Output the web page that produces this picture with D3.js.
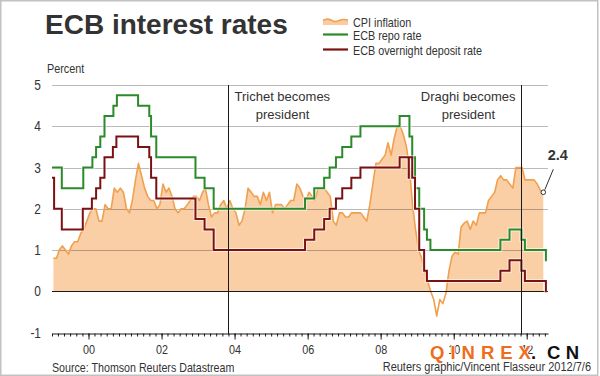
<!DOCTYPE html>
<html><head><meta charset="utf-8">
<script src="https://cdn.jsdelivr.net/npm/d3@7"></script>
<style>body{margin:0;background:#fff}svg{display:block}</style>
</head><body>
<svg id="c" width="600" height="376"></svg>
<script>
// ---------------- DATA ----------------
const cpiStart = [1999, 0]; // Jan 1999, monthly
const cpiValues = [
  0.8,0.8,1.0,1.1,1.0,0.9,1.1,1.2,1.2,1.4,1.5,1.7,      // 1999
  1.9,2.0,2.0,1.7,1.7,2.1,2.0,2.0,2.5,2.4,2.5,2.4,      // 2000
  2.0,1.9,2.2,2.7,3.1,2.8,2.5,2.3,2.2,2.2,2.0,2.1,      // 2001
  2.6,2.4,2.5,2.3,2.0,1.9,2.0,2.0,2.1,2.2,2.3,2.3,      // 2002
  2.2,2.4,2.5,2.1,1.8,1.9,1.9,2.1,2.2,2.0,2.2,2.0,      // 2003
  1.9,1.6,1.7,2.0,2.5,2.4,2.3,2.3,2.1,2.4,2.2,2.4,      // 2004
  1.9,2.1,2.1,2.1,2.0,2.1,2.2,2.2,2.6,2.5,2.3,2.2,      // 2005
  2.4,2.3,2.2,2.5,2.5,2.5,2.4,2.3,1.7,1.6,1.9,1.9,      // 2006
  1.8,1.8,1.9,1.9,1.9,1.9,1.8,1.7,2.1,2.6,3.1,3.1,      // 2007
  3.2,3.3,3.6,3.3,3.7,4.0,4.0,3.8,3.5,3.0,2.1,1.5,      // 2008
  1.0,0.8,0.5,0.25,0.0,-0.2,-0.6,-0.2,-0.3,-0.05,0.5,0.85, // 2009
  0.95,0.9,1.55,1.65,1.7,1.5,1.7,1.6,1.9,1.9,1.9,2.2,   // 2010
  2.3,2.4,2.7,2.8,2.7,2.7,2.6,2.5,3.0,3.0,3.0,2.7,      // 2011
  2.7,2.7,2.7,2.6,2.45,2.4                              // 2012
];
const repoDates = ["1999-01-01","1999-04-09","1999-11-10","2000-02-09","2000-03-17","2000-04-28",
  "2000-06-09","2000-09-06","2000-10-11","2001-05-11","2001-08-31","2001-09-18","2001-11-09",
  "2002-12-06","2003-03-07","2003-06-06","2005-12-06","2006-03-08","2006-06-15","2006-08-09",
  "2006-10-11","2006-12-13","2007-03-14","2007-06-13","2008-07-09","2008-10-15","2008-11-12",
  "2008-12-10","2009-01-21","2009-03-11","2009-04-08","2009-05-13","2011-04-13","2011-07-13",
  "2011-11-09","2011-12-14","2012-07-11"];
const repoValues = [3.0,2.5,3.0,3.25,3.5,3.75,4.25,4.5,4.75,4.5,4.25,3.75,3.25,
  2.75,2.5,2.0,2.25,2.5,2.75,3.0,3.25,3.5,3.75,4.0,4.25,3.75,3.25,
  2.5,2.0,1.5,1.25,1.0,1.25,1.5,1.25,1.0,0.75];
const depositDates = ["1999-01-01","1999-01-22","1999-04-09","1999-11-05","2000-02-04","2000-03-17",
  "2000-04-28","2000-06-09","2000-09-01","2000-10-06","2001-05-11","2001-08-31","2001-09-18",
  "2001-11-09","2002-12-06","2003-03-07","2003-06-06","2005-12-06","2006-03-08","2006-06-15",
  "2006-08-09","2006-10-11","2006-12-13","2007-03-14","2007-06-13","2008-07-09","2008-10-08",
  "2008-10-09","2008-11-12","2008-12-10","2009-01-21","2009-03-11","2009-04-08","2011-04-13",
  "2011-07-13","2011-11-09","2011-12-14","2012-07-11"];
const depositValues = [2.75,2.0,1.5,2.0,2.25,2.5,2.75,3.25,3.5,3.75,3.5,3.25,2.75,
  2.25,1.75,1.5,1.0,1.25,1.5,1.75,2.0,2.25,2.5,2.75,3.0,3.25,2.75,
  3.25,2.75,2.0,1.0,0.5,0.25,0.5,0.75,0.5,0.25,0.0];
const ratesEnd = "2012-07-20";
const yTicks = [-1,0,1,2,3,4,5];
const xTickYears = [2000,2002,2004,2006,2008,2010,2012];
const xTickLabels = ["00","02","04","06","08","10","12"];
const eventDates = ["2003-11-01","2011-11-01"];
const eventTitles = ["Trichet becomes","Draghi becomes"];
const eventSub = "president";
const seriesNames = ["CPI inflation","ECB repo rate","ECB overnight deposit rate"];
const titleText = "ECB interest rates";
const unitText = "Percent";
const sourceText = "Source: Thomson Reuters Datastream";
const creditText = "Reuters graphic/Vincent Flasseur 2012/7/6";
const lastLabel = "2.4";

// ---------------- STYLE ----------------
const REG = "'Liberation Sans',Arial,Helvetica,sans-serif";
const TXT = "#333";
const C_FILL = "rgb(248,191,136)", C_CPI = "#f0a04e", C_REPO = "#2b8a2b", C_DEP = "#7a1214";

// condensed text: squeeze glyphs horizontally (Arial Narrow look)
function narrow(sel, f){
  sel.each(function(){
    const w = this.getComputedTextLength();
    d3.select(this).attr("textLength", w*f).attr("lengthAdjust","spacingAndGlyphs");
  });
  return sel;
}

const parse = d3.utcParse("%Y-%m-%d");
const svg = d3.select("#c");

const x = d3.scaleUtc().domain([new Date(Date.UTC(1999,0,1)), new Date(Date.UTC(2012,7,1))]).range([52,548]);
const y = d3.scaleLinear().domain([-1,5]).range([332.5,85]);
const cr = v => Math.round(v)+0.5;

svg.append("rect").attr("x",0.75).attr("y",0.75).attr("width",597).attr("height",374.5)
  .attr("fill","#fff").attr("stroke","#c2c2c2").attr("stroke-width",1.5);

// title
svg.append("text").attr("x",45).attr("y",33.5).text(titleText)
  .attr("font-family",REG).attr("font-weight","bold").attr("font-size",28).attr("fill",TXT);

// legend
const lg = svg.append("g");
const swY = [21.5, 34.5, 49.5];
lg.append("path").attr("d","M323,20.5 C327,18 330,19 333,21 C337,23 340,19 344,19.5 L348,20 L348,25 L323,25 Z")
  .attr("fill",C_FILL).attr("fill-opacity",0.8);
lg.append("path").attr("d","M323,20.5 C327,18 330,19 333,21 C337,23 340,19 344,19.5 L348,20")
  .attr("fill","none").attr("stroke",C_CPI).attr("stroke-width",1.5);
lg.append("line").attr("x1",323).attr("x2",348).attr("y1",swY[1]).attr("y2",swY[1]).attr("stroke",C_REPO).attr("stroke-width",2.2);
lg.append("line").attr("x1",323).attr("x2",348).attr("y1",swY[2]).attr("y2",swY[2]).attr("stroke",C_DEP).attr("stroke-width",2.2);
seriesNames.forEach((s,i)=>{
  narrow(lg.append("text").attr("x",353).attr("y",swY[i]+5).text(s)
    .attr("font-family",REG).attr("font-size",13.5).attr("fill",TXT), 0.8);
});

// unit
narrow(svg.append("text").attr("x",47).attr("y",72.5).text(unitText)
  .attr("font-family",REG).attr("font-size",13.5).attr("fill",TXT), 0.8);

// y labels
yTicks.forEach(v=>{
  narrow(svg.append("text").attr("x",41).attr("y",y(v)+5).attr("text-anchor","end").text(v)
    .attr("font-family",REG).attr("font-size",14).attr("fill",TXT), 0.85);
});

// CPI area (clipped above zero)
const cpi = cpiValues.map((v,i)=>({date:new Date(Date.UTC(cpiStart[0], cpiStart[1]+i, 15)), v}));
svg.append("clipPath").attr("id","pos").append("rect").attr("x",0).attr("y",0).attr("width",600).attr("height",y(0));
svg.append("path").datum(cpi).attr("clip-path","url(#pos)")
  .attr("d", d3.area().x(d=>x(d.date)).y0(y(0)).y1(d=>y(d.v)))
  .attr("fill",C_FILL).attr("fill-opacity",0.75);

// gridlines
yTicks.filter(v=>v>0).forEach(v=>{
  svg.append("line").attr("x1",52).attr("x2",548).attr("y1",cr(y(v))).attr("y2",cr(y(v)))
    .attr("stroke","#000").attr("stroke-opacity",0.27).attr("stroke-width",1);
});

// CPI line
svg.append("path").datum(cpi).attr("d", d3.line().x(d=>x(d.date)).y(d=>y(d.v)))
  .attr("fill","none").attr("stroke",C_CPI).attr("stroke-width",1.6).attr("stroke-linejoin","round");

// zero line
svg.append("line").attr("x1",52).attr("x2",548).attr("y1",cr(y(0))).attr("y2",cr(y(0)))
  .attr("stroke","#1a1a1a").attr("stroke-width",1);

// step series
function stepData(dates, vals){
  const d = dates.map((t,i)=>({date:parse(t), v:vals[i]}));
  d.push({date:parse(ratesEnd), v:vals[vals.length-1]});
  return d;
}
const stepLine = d3.line().x(d=>x(d.date)).y(d=>y(d.v)).curve(d3.curveStepAfter);
[[stepData(repoDates,repoValues),C_REPO],[stepData(depositDates,depositValues),C_DEP]].forEach(([d,c])=>{
  svg.append("path").datum(d).attr("d",stepLine).attr("fill","none")
    .attr("stroke","#fff").attr("stroke-opacity",0.6).attr("stroke-width",4);
  svg.append("path").datum(d).attr("d",stepLine).attr("fill","none")
    .attr("stroke",c).attr("stroke-width",2);
});

// x axis
const minorDates = d3.utcMonth.every(2).range(x.domain()[0], x.domain()[1]);
const majorDates = xTickYears.map(yr=>new Date(Date.UTC(yr,0,1)));
const axMinor = svg.append("g").attr("transform",`translate(0,${cr(y(-1))})`)
  .call(d3.axisBottom(x).tickValues(minorDates).tickSize(3).tickSizeOuter(0).tickFormat(""));
axMinor.select(".domain").attr("stroke","#1a1a1a");
axMinor.selectAll(".tick line").attr("stroke","#1a1a1a");
const axMajor = svg.append("g").attr("transform",`translate(0,${cr(y(-1))})`)
  .call(d3.axisBottom(x).tickValues(majorDates).tickSize(6).tickSizeOuter(0).tickPadding(5)
    .tickFormat((d,i)=>xTickLabels[i]));
axMajor.select(".domain").remove();
axMajor.selectAll(".tick line").attr("stroke","#1a1a1a");
narrow(axMajor.selectAll(".tick text").attr("font-family",REG).attr("font-size",13.5).attr("fill",TXT), 0.8);

// event lines and labels
eventDates.forEach((ds,i)=>{
  const ex = cr(x(parse(ds)));
  svg.append("line").attr("x1",ex).attr("x2",ex).attr("y1",85).attr("y2",cr(y(-1))+1)
    .attr("stroke","#1a1a1a").attr("stroke-width",1);
  const right = i===0;
  const t1 = svg.append("text").attr("x", right? ex+6 : ex-6).attr("y",100.5)
    .attr("text-anchor", right? "start":"end").text(eventTitles[i])
    .attr("font-family",REG).attr("font-size",13).attr("fill",TXT);
  const bb = t1.node().getBBox();
  svg.append("text").attr("x",bb.x+bb.width/2).attr("y",118.5).attr("text-anchor","middle").text(eventSub)
    .attr("font-family",REG).attr("font-size",13).attr("fill",TXT);
});

// last value annotation
const last = cpi[cpi.length-1];
const lx = x(last.date), ly = y(last.v);
svg.append("line").attr("x1",lx+1.5).attr("y1",ly-2.5).attr("x2",lx+10).attr("y2",ly-23)
  .attr("stroke","#333").attr("stroke-width",1);
svg.append("circle").attr("cx",lx).attr("cy",ly).attr("r",2.3).attr("fill","#fff").attr("stroke","#333").attr("stroke-width",1);
svg.append("text").attr("x",lx+14.5).attr("y",ly-32).attr("text-anchor","middle").text(lastLabel)
  .attr("font-family",REG).attr("font-weight","bold").attr("font-size",14.5).attr("fill",TXT);

// footer
narrow(svg.append("text").attr("x",52).attr("y",371.5).text(sourceText)
  .attr("font-family",REG).attr("font-size",13).attr("fill",TXT), 0.82);
narrow(svg.append("text").attr("x",591).attr("y",370.5).attr("text-anchor","end").text(creditText)
  .attr("font-family",REG).attr("font-size",12.5).attr("fill",TXT), 0.88);

// watermark
const wm = svg.append("g").attr("font-family",REG).attr("font-weight","bold").attr("font-size",18.5)
  .attr("stroke","#fff").attr("stroke-width",1.5).attr("paint-order","stroke");
wm.append("text").attr("x",430).attr("y",358.5).attr("letter-spacing",6).attr("fill","#ef6d1c").text("QINREX");
wm.append("text").attr("x",531).attr("y",358.5).attr("fill","#111").text(".");
wm.append("text").attr("x",547).attr("y",358.5).attr("letter-spacing",5.5).attr("fill","#111").text("CN");
</script>
</body></html>
